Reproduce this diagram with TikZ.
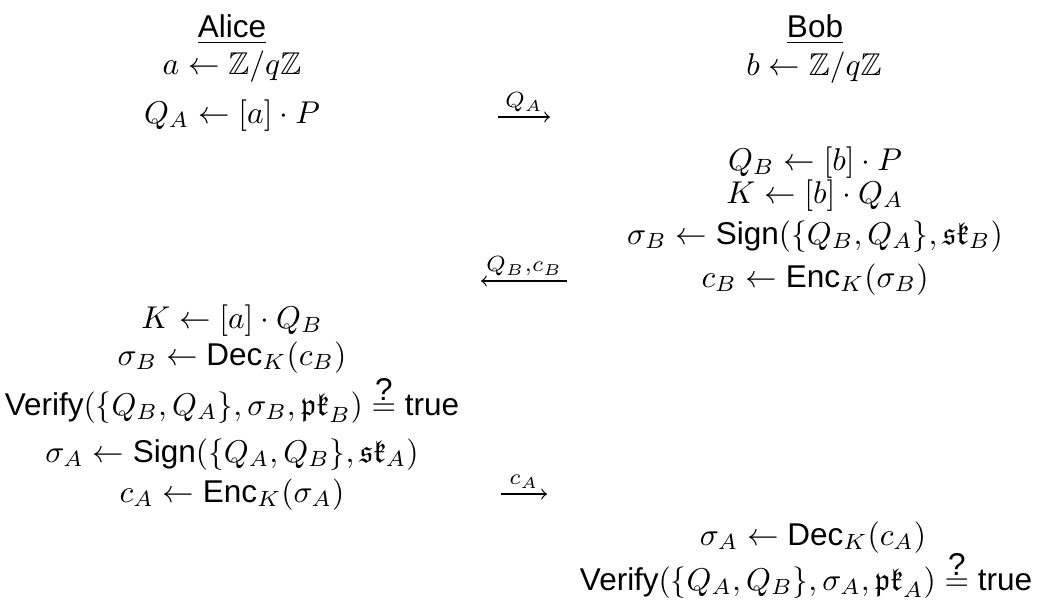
\documentclass[tikz,border=0pt]{standalone}
\usepackage{amsmath,amssymb}
\usepackage{fontspec}
\setsansfont{Liberation Sans}
\usetikzlibrary{arrows.meta}
\newcommand{\qmarkeq}{\mathrel{\vbox{\offinterlineskip\halign{\hfil##\hfil\cr\textsf{?}\cr\noalign{\kern0.8pt}$=$\cr}}}}
\begin{document}
\begin{tikzpicture}[x=0.3175pt, y=-0.3175pt,
  row/.style={anchor=base, inner sep=0pt, outer sep=0pt},
  msg/.style={-to, line width=0.4pt},
  lbl/.style={anchor=base, yshift=2.9pt, inner sep=0pt}]
\useasboundingbox (0,0) rectangle (1037,603);
% headers
\node[row] (alice) at (232,38) {\underline{\textsf{Alice}}};
\node[row] (bob) at (815,38) {\underline{\textsf{Bob}}};
% Alice column
\node[row] (a1) at (232,74.5) {$a \leftarrow \mathbb{Z}/q\mathbb{Z}$};
\node[row] (a2) at (232,123) {$Q_A \leftarrow [a]\cdot P$};
\node[row] (a3) at (232,328) {$K \leftarrow [a]\cdot Q_B$};
\node[row] (a4) at (232,365) {$\sigma_B \leftarrow \textsf{Dec}_K(c_B)$};
\node[row] (a5) at (232,415) {$\textsf{Verify}(\{Q_B,Q_A\},\sigma_B,\mathfrak{pk}_B) \qmarkeq \textsf{true}$};
\node[row] (a6) at (232,462) {$\sigma_A \leftarrow \textsf{Sign}(\{Q_A,Q_B\},\mathfrak{sk}_A)$};
\node[row] (a7) at (232,502) {$c_A \leftarrow \textsf{Enc}_K(\sigma_A)$};
% Bob column
\node[row] (b1) at (814,75) {$b \leftarrow \mathbb{Z}/q\mathbb{Z}$};
\node[row] (b2) at (815,170) {$Q_B \leftarrow [b]\cdot P$};
\node[row] (b3) at (815,203) {$K \leftarrow [b]\cdot Q_A$};
\node[row] (b4) at (815,244) {$\sigma_B \leftarrow \textsf{Sign}(\{Q_B,Q_A\},\mathfrak{sk}_B)$};
\node[row] (b5) at (815,287) {$c_B \leftarrow \textsf{Enc}_K(\sigma_B)$};
\node[row] (b6) at (813,545) {$\sigma_A \leftarrow \textsf{Dec}_K(c_A)$};
\node[row] (b7) at (806,590) {$\textsf{Verify}(\{Q_A,Q_B\},\sigma_A,\mathfrak{pk}_A) \qmarkeq \textsf{true}$};
% messages
\coordinate (m1s) at (498,117);
\coordinate (m1e) at (550,117);
\coordinate (m2s) at (567,281);
\coordinate (m2e) at (481,281);
\coordinate (m3s) at (501,494);
\coordinate (m3e) at (547,494);
\draw[msg] (m1s) -- node[lbl] {$\scriptstyle Q_A$} (m1e);
\draw[msg] (m2s) -- node[lbl] {$\scriptstyle Q_B,c_B$} (m2e);
\draw[msg] (m3s) -- node[lbl] {$\scriptstyle c_A$} (m3e);
\end{tikzpicture}
\end{document}
